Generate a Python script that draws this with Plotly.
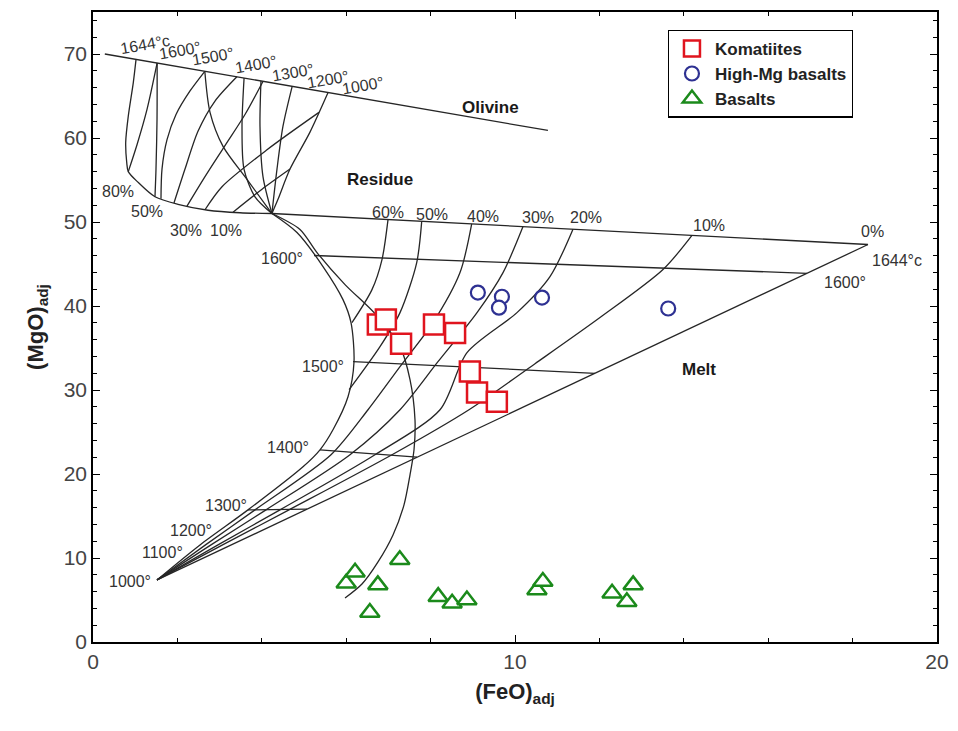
import plotly.graph_objects as go

# ---------------- sample data ----------------
kom_x = [6.75, 6.94, 7.30, 8.08, 8.58, 8.93, 9.10, 9.57]
kom_y = [37.8, 38.4, 35.5, 37.8, 36.8, 32.2, 29.7, 28.6]

hmg_x = [9.12, 9.69, 9.62, 10.64, 13.63]
hmg_y = [41.6, 41.1, 39.8, 41.0, 39.7]

bas_x = [6.00, 6.21, 6.75, 7.27, 6.56, 8.18, 8.51, 8.86, 10.52, 10.66, 12.30, 12.80, 12.65]
bas_y = [7.0, 8.3, 6.8, 9.8, 3.5, 5.4, 4.6, 5.0, 6.2, 7.2, 5.8, 6.8, 4.8]

# ---------------- model grid curves (FeO, MgO) ----------------
olivine_x = [0.28, 10.78]
olivine_y = [70.0, 60.9]

res_outer_x = [1.02, 0.955, 0.836, 0.775, 0.799, 0.836, 1.073, 1.469, 2.014, 2.725, 3.483, 4.24]
res_outer_y = [69.36, 66.6, 62.6, 59.5, 57.1, 56.0, 54.7, 53.0, 52.1, 51.4, 51.1, 51.01]
res_b_x = [1.52, 1.517, 1.493, 1.469]
res_b_y = [68.93, 62.2, 56.3, 53.0]
res_c_x = [1.52, 1.28, 1.043, 0.836]
res_c_y = [68.93, 63.4, 59.2, 56.0]
res_d_x = [2.65, 2.299, 1.967, 1.754, 1.635, 1.611]
res_d_y = [67.94, 65.6, 62.8, 59.8, 56.3, 52.77]
res_f_x = [3.41, 2.891, 2.488, 2.18, 1.919]
res_f_y = [67.29, 64.4, 60.8, 56.3, 52.26]
res_h_x = [4.03, 3.602, 3.128, 2.654, 2.227]
res_h_y = [66.75, 62.8, 59.1, 55.4, 51.89]
res_l_x = [5.355, 4.123, 3.057, 2.654]
res_l_y = [63.05, 58.6, 54.2, 51.46]
res_m_x = [4.668, 4.005, 3.318]
res_m_y = [56.3, 53.9, 51.17]
res_e_x = [2.65, 2.773, 3.081, 3.649, 4.24]
res_e_y = [67.94, 63.05, 59.0, 55.07, 51.01]
res_g_x = [3.58, 3.531, 3.578, 3.839, 4.24]
res_g_y = [67.14, 61.4, 56.3, 53.0, 51.01]
res_i_x = [3.98, 3.957, 4.028, 4.24]
res_i_y = [66.79, 61.4, 55.4, 51.01]
res_j_x = [4.72, 4.502, 4.36, 4.24]
res_j_y = [66.15, 61.4, 56.3, 51.01]
res_k_x = [5.57, 5.142, 4.668, 4.384, 4.24]
res_k_y = [65.41, 60.7, 56.3, 52.7, 51.01]

melt_top_x = [4.24, 18.365]
melt_top_y = [51.01, 47.32]
melt_zero_x = [18.365, 1.517]
melt_zero_y = [47.32, 7.39]
melt_left_x = [4.24, 4.834, 5.450, 5.924, 6.114, 6.185, 6.043, 5.687, 5.379, 4.976, 3.673, 2.536, 1.517]
melt_left_y = [51.01, 48.75, 44.70, 40.76, 38.02, 33.37, 29.20, 25.27, 22.88, 20.86, 15.73, 11.56, 7.39]
f60_x = [6.991, 6.848, 6.611, 6.137]
f60_y = [50.29, 45.53, 41.95, 38.02]
f50_x = [7.789, 7.671, 7.275, 6.801, 6.07]
f50_y = [50.08, 45.17, 39.21, 35.16, 30.04]
f40_x = [8.974, 8.697, 8.057, 7.275, 6.517, 5.640, 3.839, 2.666, 1.517]
f40_y = [49.77, 43.98, 38.02, 32.78, 27.65, 22.29, 15.73, 11.56, 7.39]
f30_x = [10.19, 9.716, 9.100, 8.175, 7.275, 6.090, 4.100, 2.796, 1.517]
f30_y = [49.46, 43.98, 39.21, 33.37, 27.65, 22.29, 15.73, 11.56, 7.39]
f20_x = [11.374, 10.829, 10.047, 8.863, 8.223, 6.682, 4.431, 2.962, 1.517]
f20_y = [49.15, 43.50, 39.21, 34.45, 27.65, 22.29, 15.73, 11.56, 7.39]
f10_x = [14.194, 13.507, 12.014, 10.474, 8.910, 7.085, 4.645, 3.071, 1.517]
f10_y = [48.41, 44.34, 38.62, 33.13, 27.65, 22.29, 15.73, 11.56, 7.39]
iso1600_x = [5.237, 16.92]
iso1600_y = [46.01, 43.89]
iso1500_x = [6.161, 11.896]
iso1500_y = [33.37, 31.99]
iso1400_x = [5.379, 7.678]
iso1400_y = [22.88, 22.0]
iso1300_x = [3.673, 5.071]
iso1300_y = [15.73, 15.81]
rc_x = [4.24, 4.905, 5.308, 5.972, 6.682, 7.275, 7.512, 7.630, 7.607, 7.512, 7.370, 7.109, 6.754, 6.374, 5.972]
rc_y = [51.01, 49.11, 46.36, 42.55, 39.09, 35.16, 31.23, 26.46, 22.88, 19.90, 16.33, 12.75, 9.54, 6.91, 5.24]

curves = [
    (olivine_x, olivine_y), (res_outer_x, res_outer_y), (res_b_x, res_b_y), (res_c_x, res_c_y),
    (res_d_x, res_d_y), (res_f_x, res_f_y), (res_h_x, res_h_y), (res_l_x, res_l_y),
    (res_m_x, res_m_y), (res_e_x, res_e_y), (res_g_x, res_g_y), (res_i_x, res_i_y),
    (res_j_x, res_j_y), (res_k_x, res_k_y), (melt_top_x, melt_top_y), (melt_zero_x, melt_zero_y),
    (melt_left_x, melt_left_y), (f60_x, f60_y), (f50_x, f50_y), (f40_x, f40_y), (f30_x, f30_y),
    (f20_x, f20_y), (f10_x, f10_y), (iso1600_x, iso1600_y), (iso1500_x, iso1500_y),
    (iso1400_x, iso1400_y), (iso1300_x, iso1300_y), (rc_x, rc_y),
]

# ---------------- labels ----------------
top_labels = ["1644°c", "1600°", "1500°", "1400°", "1300°", "1200°", "1000°"]
top_lab_x = [1.23, 2.06, 2.84, 3.86, 4.74, 5.57, 6.40]
top_lab_y = [71.16, 70.44, 69.73, 68.77, 67.82, 66.98, 66.27]

plain_labels = ["80%", "50%", "30%", "10%", "60%", "50%", "40%", "30%", "20%", "10%", "0%",
                "1644°c", "1600°", "1600°", "1500°", "1400°", "1300°", "1200°", "1100°", "1000°"]
plain_lab_x = [0.59, 1.28, 2.20, 3.15, 6.99, 8.03, 9.24, 10.55, 11.68, 14.60, 18.46,
               19.05, 17.82, 4.48, 5.45, 4.62, 3.15, 2.32, 1.64, 0.88]
plain_lab_y = [53.64, 51.25, 48.99, 48.99, 51.13, 50.89, 50.66, 50.54, 50.54, 49.58, 48.87,
               45.41, 42.79, 45.65, 32.78, 23.12, 16.21, 13.23, 10.61, 7.15]

bold_labels = ["Olivine", "Residue", "Melt"]
bold_lab_x = [9.43, 6.80, 14.36]
bold_lab_y = [63.65, 55.07, 32.42]

FONT = "Liberation Sans, Arial, sans-serif"
LINE = "#262626"

fig = go.Figure()
for cx, cy in curves:
    fig.add_trace(go.Scatter(x=cx, y=cy, mode="lines", showlegend=False, hoverinfo="skip",
                             line=dict(color=LINE, width=1.3, shape="spline", smoothing=0.8)))

fig.add_trace(go.Scatter(x=kom_x, y=kom_y, mode="markers", name="<b>Komatiites</b>",
                         marker=dict(symbol="square", size=20, color="white",
                                     line=dict(color="#e0141e", width=2.5))))
fig.add_trace(go.Scatter(x=hmg_x, y=hmg_y, mode="markers", name="<b>High-Mg basalts</b>",
                         marker=dict(symbol="circle", size=14, color="white",
                                     line=dict(color="#2e3192", width=2.2))))
fig.add_trace(go.Scatter(x=bas_x, y=bas_y, mode="markers", name="<b>Basalts</b>",
                         marker=dict(symbol="triangle-up", size=17, color="white",
                                     line=dict(color="#1b8a1b", width=2.5))))

for t, x, y in zip(top_labels, top_lab_x, top_lab_y):
    fig.add_annotation(x=x, y=y, text=t, showarrow=False, textangle=-10,
                       font=dict(family=FONT, size=16, color="#333"))
for t, x, y in zip(plain_labels, plain_lab_x, plain_lab_y):
    fig.add_annotation(x=x, y=y, text=t, showarrow=False,
                       font=dict(family=FONT, size=16, color="#333"))
for t, x, y in zip(bold_labels, bold_lab_x, bold_lab_y):
    fig.add_annotation(x=x, y=y, text="<b>" + t + "</b>", showarrow=False,
                       font=dict(family=FONT, size=17, color="#1a1a1a"))

axis_common = dict(showline=True, linecolor="black", linewidth=1.5, mirror="allticks",
                   ticks="inside", ticklen=7, tickwidth=1, tickcolor="black",
                   showgrid=False, zeroline=False,
                   tickfont=dict(family=FONT, size=21, color="#444"),
                   minor=dict(ticks="inside", ticklen=4, tickwidth=1, tickcolor="black", dtick=2))

fig.update_xaxes(range=[0, 20], dtick=10, tick0=0,
                 title=dict(text="<b>(FeO)<sub>adj</sub></b>", standoff=12,
                            font=dict(family=FONT, size=22, color="#222")),
                 **axis_common)
fig.update_yaxes(range=[0, 75], dtick=10, tick0=0,
                 title=dict(text="<b>(MgO)<sub>adj</sub></b>", standoff=14,
                            font=dict(family=FONT, size=22, color="#222")),
                 **axis_common)

fig.update_layout(
    width=958, height=731,
    margin=dict(l=93, r=21, t=12, b=89, autoexpand=False),
    paper_bgcolor="white", plot_bgcolor="white",
    showlegend=True,
    legend=dict(x=0.681, y=0.972, xanchor="left", yanchor="top",
                bgcolor="white", bordercolor="black", borderwidth=1.2,
                font=dict(family=FONT, size=17, color="#222"),
                itemwidth=36, tracegroupgap=2),
)

fig.write_html("out.html")
